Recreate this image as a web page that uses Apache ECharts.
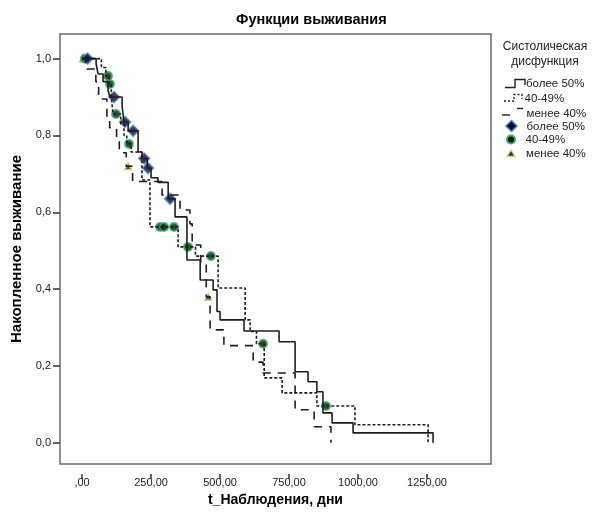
<!DOCTYPE html>
<html>
<head>
<meta charset="utf-8">
<script src="https://cdn.jsdelivr.net/npm/echarts@6/dist/echarts.min.js"></script>
<style>
  html, body { margin: 0; padding: 0; background: #fff; }
  #chart { width: 593px; height: 513px; }
</style>
</head>
<body>
<div id="chart"></div>
<script>
// Kaplan-Meier steps: time (days) and survival after the step
const solidT = [0, 51, 58, 76, 94, 101, 145, 152, 167, 203, 217, 236, 250, 275, 312, 337, 380, 428, 475, 489, 500, 587, 714, 772, 819, 851, 873, 906, 982, 1272]
const solidS = [1, 0.986, 0.96, 0.94, 0.917, 0.90, 0.877, 0.835, 0.812, 0.757, 0.74, 0.715, 0.69, 0.678, 0.635, 0.588, 0.476, 0.424, 0.398, 0.342, 0.32, 0.291, 0.263, 0.185, 0.159, 0.133, 0.078, 0.052, 0.026, 0]

const midT = [0, 70, 86, 98, 106, 112, 140, 152, 162, 178, 217, 246, 348, 411, 493, 591, 609, 632, 660, 725, 851, 989, 1254]
const midS = [1, 0.977, 0.955, 0.934, 0.90, 0.856, 0.83, 0.80, 0.778, 0.757, 0.684, 0.562, 0.51, 0.486, 0.403, 0.32, 0.29, 0.258, 0.169, 0.13, 0.096, 0.047, 0]

const lowT = [0, 12, 50, 60, 90, 100, 125, 135, 160, 183, 290, 355, 391, 399, 430, 450, 464, 514, 620, 656, 772, 841, 902]
const lowS = [1, 0.973, 0.94, 0.895, 0.84, 0.82, 0.79, 0.755, 0.72, 0.68, 0.645, 0.606, 0.57, 0.515, 0.47, 0.38, 0.294, 0.253, 0.21, 0.182, 0.086, 0.042, 0]

// censored cases
const censSolidT = [20, 116, 156, 185, 225, 239, 319]
const censSolidS = [1, 0.90, 0.835, 0.812, 0.74, 0.715, 0.635]
const censMidT = [10, 94, 101, 123, 170, 283, 297, 333, 384, 467, 656, 884]
const censMidS = [1, 0.955, 0.934, 0.856, 0.778, 0.562, 0.562, 0.562, 0.51, 0.486, 0.258, 0.096]
const censLowT = [3, 167, 457]
const censLowS = [1, 0.72, 0.38]

const xTicks = [0, 250, 500, 750, 1000, 1250]
const yTicks = [0, 0.2, 0.4, 0.6, 0.8, 1]

const legendTitle = ['Систолическая', 'дисфункция']
const groupNames = ['более 50%', '40-49%', 'менее 40%']

const FONT = 'Liberation Sans, Arial, sans-serif'

function zip (t, s) {
  return t.map((v, i) => [v, s[i]])
}

const chart = echarts.init(document.getElementById('chart'), null, { renderer: 'canvas' })

function lineSeries (name, t, s, dash) {
  return {
    name: name,
    type: 'line',
    step: 'end',
    data: zip(t, s),
    symbol: 'none',
    silent: true,
    lineStyle: { color: '#1e1e1e', width: 1.6, type: dash }
  }
}

function legendText (text, x, y) {
  return { type: 'text', x: x, y: y, style: { text: text, font: '11.5px ' + FONT, fill: '#222', textVerticalAlign: 'middle' } }
}

const option = {
  animation: false,
  backgroundColor: '#fff',
  title: {
    text: 'Функции выживания',
    left: 236,
    top: 12,
    padding: 0,
    textStyle: { fontFamily: FONT, fontSize: 14.5, fontWeight: 'bold', color: '#000' }
  },
  grid: {
    left: 60,
    top: 34,
    right: 102,
    bottom: 49,
    show: true,
    borderColor: '#6b6b6b',
    borderWidth: 1.5,
    outerBoundsMode: 'none'
  },
  xAxis: {
    type: 'value',
    min: -80,
    max: 1482,
    offset: 10,
    axisLine: { show: false, onZero: false },
    splitLine: { show: false },
    axisTick: { show: true, length: 5, customValues: xTicks, lineStyle: { color: '#333', width: 1.5 } },
    axisLabel: {
      customValues: xTicks,
      margin: 3,
      color: '#222',
      fontSize: 11,
      fontFamily: FONT,
      formatter: v => v === 0 ? ',00' : v.toFixed(2).replace('.', ',')
    },
    name: 't_Наблюдения, дни',
    nameLocation: 'middle',
    nameGap: 16,
    nameTextStyle: { fontFamily: FONT, fontSize: 14, fontWeight: 'bold', color: '#000' }
  },
  yAxis: {
    type: 'value',
    min: -0.055,
    max: 1.064,
    axisLine: { show: false, onZero: false },
    splitLine: { show: false },
    axisTick: { show: true, length: 7, customValues: yTicks, lineStyle: { color: '#333', width: 1.5 } },
    axisLabel: {
      customValues: yTicks,
      margin: 9,
      color: '#222',
      fontSize: 11,
      fontFamily: FONT,
      formatter: v => v.toFixed(1).replace('.', ',')
    },
    name: 'Накопленное выживание',
    nameLocation: 'middle',
    nameGap: 32,
    nameTextStyle: { fontFamily: FONT, fontSize: 15, fontWeight: 'bold', color: '#000' }
  },
  series: [
    lineSeries(groupNames[0], solidT, solidS, 'solid'),
    lineSeries(groupNames[1], midT, midS, [3, 2]),
    lineSeries(groupNames[2], lowT, lowS, [8, 7]),
    {
      type: 'scatter',
      data: zip(censLowT, censLowS),
      symbol: 'triangle',
      symbolSize: 7,
      silent: true,
      itemStyle: { color: '#3a3320', borderColor: '#d9cc8f', borderWidth: 1.5 }
    },
    {
      type: 'scatter',
      data: zip(censMidT, censMidS),
      symbol: 'circle',
      symbolSize: 8,
      silent: true,
      itemStyle: { color: '#111', borderColor: '#2fb35a', borderWidth: 2 }
    },
    {
      type: 'scatter',
      data: zip(censSolidT, censSolidS),
      symbol: 'diamond',
      symbolSize: 11,
      silent: true,
      itemStyle: { color: '#0b0b2e', borderColor: '#4f7fd0', borderWidth: 1.5 }
    }
  ],
  graphic: [
    { type: 'text', x: 545, y: 47, style: { text: legendTitle[0], font: '12px ' + FONT, fill: '#222', textAlign: 'center', textVerticalAlign: 'middle' } },
    { type: 'text', x: 545, y: 62, style: { text: legendTitle[1], font: '12px ' + FONT, fill: '#222', textAlign: 'center', textVerticalAlign: 'middle' } },
    { type: 'polyline', shape: { points: [[505, 87.5], [515, 87.5], [515, 79.5], [525, 79.5], [525, 85]] }, style: { stroke: '#222', lineWidth: 1.4, fill: null } },
    legendText(groupNames[0], 526, 83.5),
    { type: 'polyline', shape: { points: [[504, 101], [514, 101], [514, 94.5], [522, 94.5], [522, 99]] }, style: { stroke: '#222', lineWidth: 1.4, fill: null, lineDash: [2, 2] } },
    legendText(groupNames[1], 524.5, 98.5),
    { type: 'polyline', shape: { points: [[502, 115], [510, 115]] }, style: { stroke: '#222', lineWidth: 1.4, fill: null } },
    { type: 'polyline', shape: { points: [[517, 108.5], [523, 108.5]] }, style: { stroke: '#222', lineWidth: 1.4, fill: null } },
    legendText(groupNames[2], 526.5, 113.5),
    { type: 'polygon', shape: { points: [[511.5, 120.5], [517, 126], [511.5, 131.5], [506, 126]] }, style: { fill: '#0b0b2e', stroke: '#4f7fd0', lineWidth: 1.5 } },
    legendText(groupNames[0], 526.5, 126.5),
    { type: 'circle', shape: { cx: 511, cy: 139.5, r: 4 }, style: { fill: '#111', stroke: '#2fb35a', lineWidth: 2 } },
    legendText(groupNames[1], 525.5, 140),
    { type: 'polygon', shape: { points: [[511, 150], [515, 156.5], [507, 156.5]] }, style: { fill: '#3a3320', stroke: '#d9cc8f', lineWidth: 1.4 } },
    legendText(groupNames[2], 526, 154)
  ]
}

chart.setOption(option)
</script>
</body>
</html>
